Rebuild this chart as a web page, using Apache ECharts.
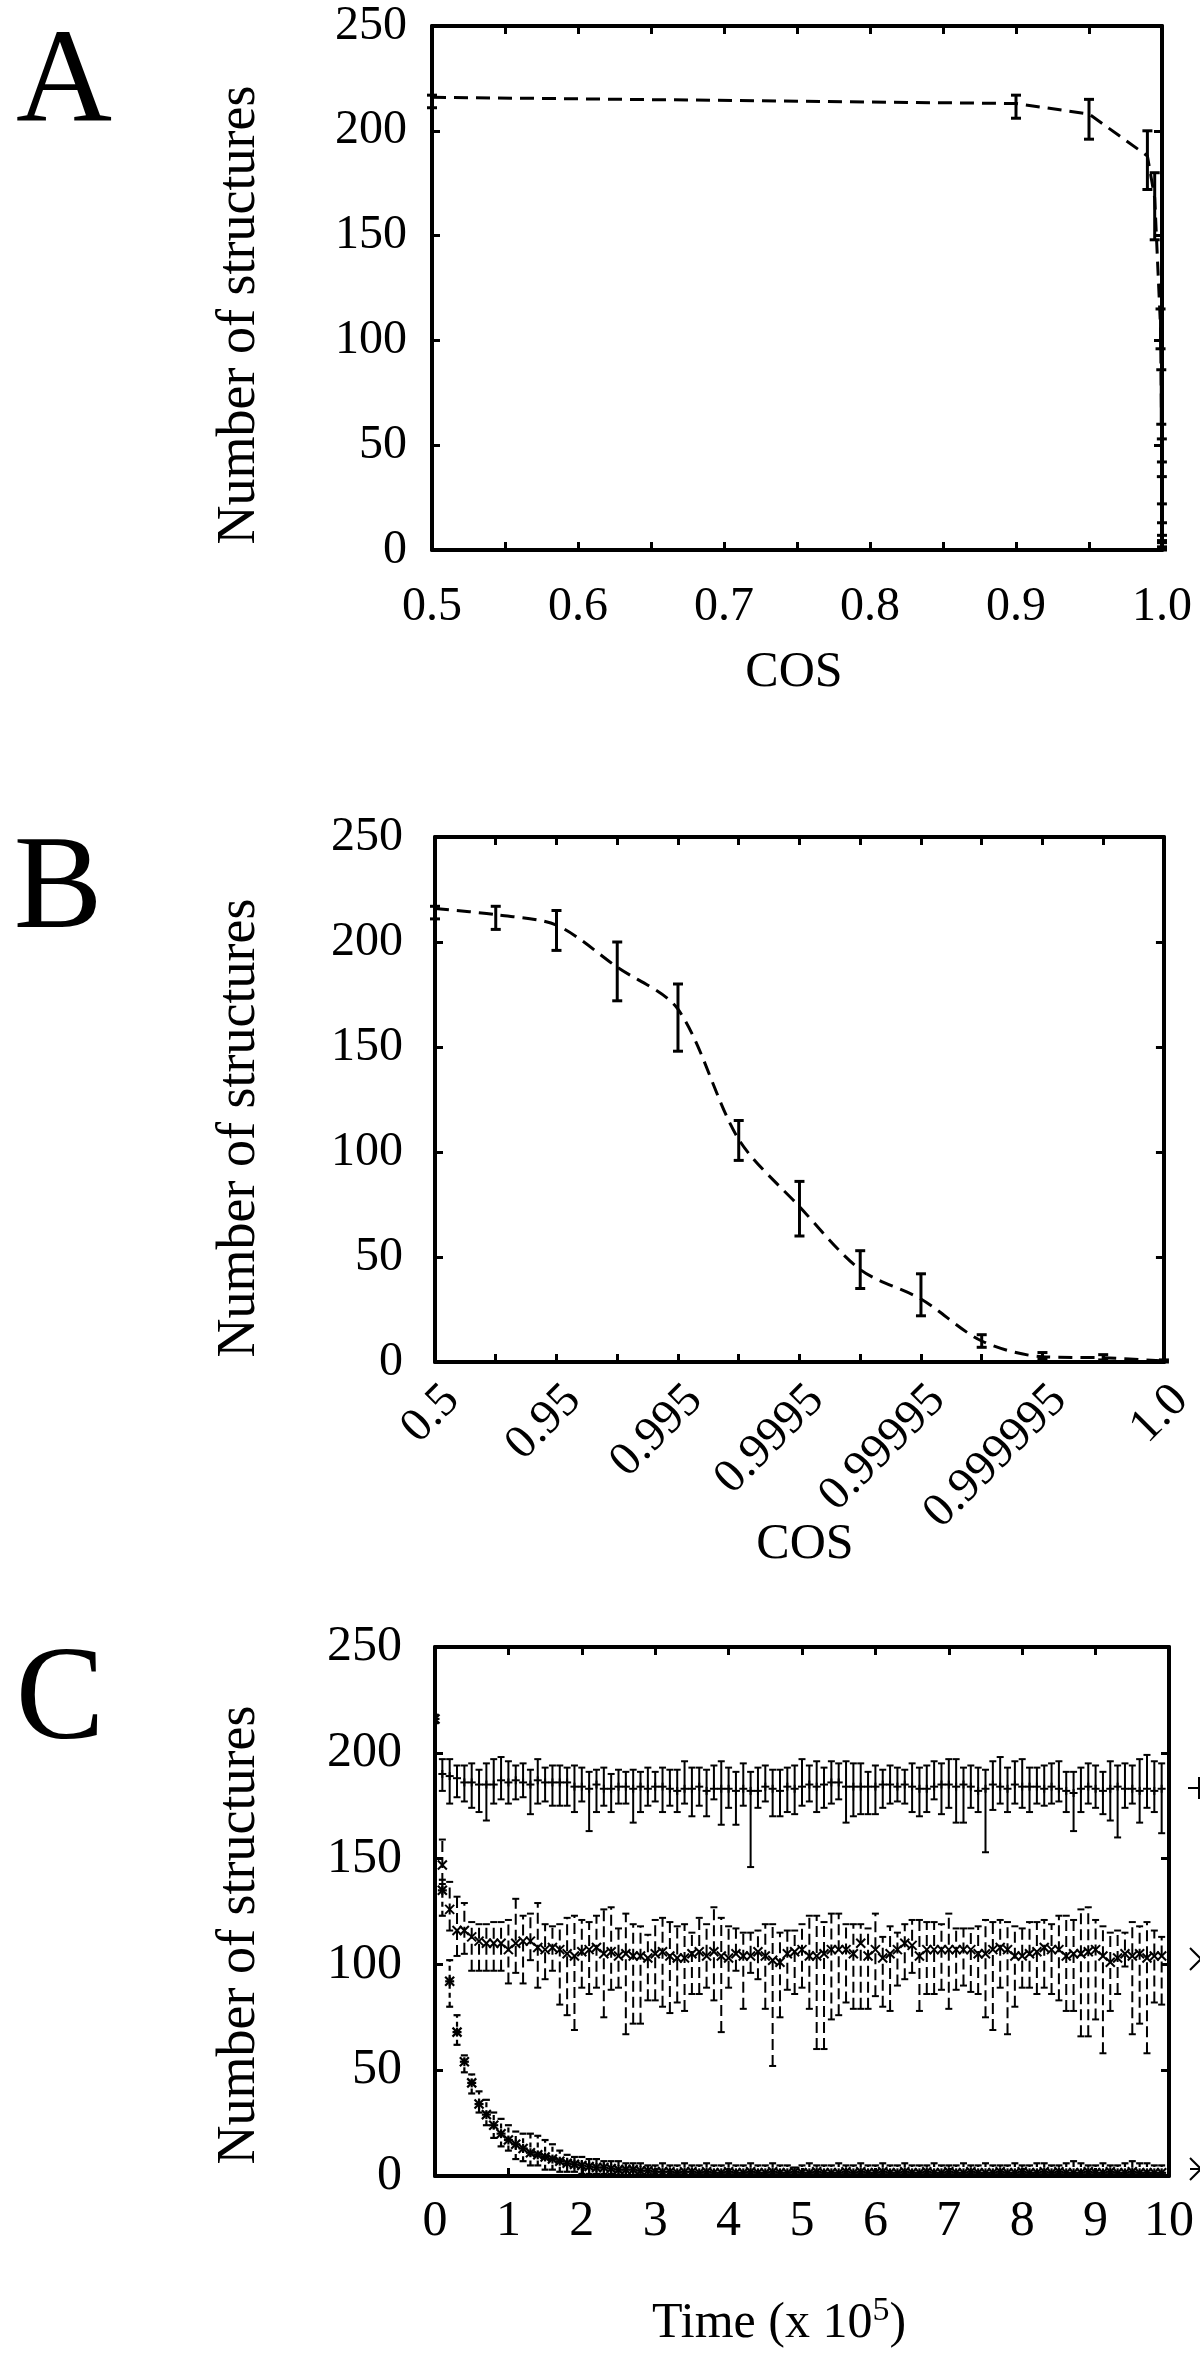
<!DOCTYPE html>
<html><head><meta charset="utf-8">
<script src="https://cdn.jsdelivr.net/npm/echarts@6/dist/echarts.min.js"></script>
<style>html,body{margin:0;padding:0;background:#fff}#c{width:1200px;height:2362px}</style>
</head><body><div id="c"></div>
<script>
// ---------- Panels A & B : COS threshold ----------
const cosValues = [0.5, 0.9, 0.95, 0.99, 0.995, 0.999, 0.9995, 0.9999, 0.99995, 0.99999, 0.999995, 0.999999, 1.0];
const cosLabels = ['0.5','0.9','0.95','0.99','0.995','0.999','0.9995','0.9999','0.99995','0.99999','0.999995','0.999999','1.0'];
const cosMean = [216, 213, 208, 188, 168, 106, 74, 44, 30, 10, 2.5, 2, 0.5];
const cosLow  = [211, 206, 196, 172, 148, 96, 60, 35, 22, 7, 1.5, 1, 0];
const cosHigh = [217, 217, 215, 200, 180, 115, 86, 53, 42, 13, 4.5, 3.5, 1];

// ---------- Panel C : time course ----------
const times = [0,0.1,0.2,0.3,0.4,0.5,0.6,0.7,0.8,0.9,1.0,1.1,1.2,1.3,1.4,1.5,1.6,1.7,1.8,1.9,
  2.0,2.1,2.2,2.3,2.4,2.5,2.6,2.7,2.8,2.9,3.0,3.1,3.2,3.3,3.4,3.5,3.6,3.7,3.8,3.9,
  4.0,4.1,4.2,4.3,4.4,4.5,4.6,4.7,4.8,4.9,5.0,5.1,5.2,5.3,5.4,5.5,5.6,5.7,5.8,5.9,
  6.0,6.1,6.2,6.3,6.4,6.5,6.6,6.7,6.8,6.9,7.0,7.1,7.2,7.3,7.4,7.5,7.6,7.7,7.8,7.9,
  8.0,8.1,8.2,8.3,8.4,8.5,8.6,8.7,8.8,8.9,9.0,9.1,9.2,9.3,9.4,9.5,9.6,9.7,9.8,9.9];

// series "+" (t = 0.1 .. 9.9)
const topMean = [190,189,188,186,186,185,185,185,187,186,
  187,186,185,187,186,186,186,186,184,184,
  183,185,183,183,184,184,183,184,183,184,
  184,183,182,183,183,184,182,183,183,183,
  182,183,182,182,184,183,182,184,183,184,
  185,184,185,186,186,184,184,184,184,184,
  185,185,184,185,184,183,183,184,185,185,
  184,185,184,182,183,185,184,183,185,184,
  184,184,183,184,183,182,181,183,184,183,
  182,183,184,183,183,182,183,182,183];
const topLow = [182,176,179,177,174,172,168,176,178,176,
  178,179,171,176,177,175,175,175,172,177,
  163,172,175,172,176,176,167,172,175,177,
  172,175,172,176,170,175,170,178,166,174,
  166,175,146,174,177,170,170,172,171,175,
  177,172,174,176,178,167,170,171,171,171,
  174,176,177,176,172,170,172,178,171,174,
  167,167,174,172,153,173,176,172,176,174,
  172,176,175,176,177,172,163,172,176,174,
  171,168,160,174,176,167,174,172,162];
const topHigh = [197,197,194,194,195,192,195,197,198,196,
  194,195,192,197,193,194,194,193,194,193,
  191,192,193,190,192,191,192,191,193,191,
  193,192,192,196,193,193,192,194,196,193,
  191,195,191,193,194,192,192,193,194,197,
  194,196,193,196,195,196,195,195,191,194,
  192,194,193,192,195,193,194,196,195,197,
  197,193,194,193,192,196,198,193,196,197,
  193,193,194,195,196,191,191,193,195,194,
  191,196,194,195,194,197,199,196,195];

// series "x" (t = 0.1 .. 9.9)
const midMean = [147,126,116,116,113,111,110,110,110,107,
  110,111,111,108,107,108,107,105,104,106,
  107,108,105,106,104,105,104,104,103,105,
  106,104,103,103,105,106,104,106,104,103,
  105,104,104,106,104,102,101,105,106,107,
  104,104,105,107,107,107,105,110,104,107,
  103,105,107,110,109,104,107,107,107,107,
  107,107,107,105,105,107,108,107,104,104,
  105,106,108,107,107,104,105,105,106,107,
  104,101,103,105,104,105,103,104,104];
const midHigh = [159,139,132,129,120,119,119,120,120,121,
  131,123,124,129,119,118,119,122,123,121,
  120,123,126,127,117,124,119,118,114,121,
  122,120,118,119,115,122,119,127,122,118,
  117,115,115,116,119,119,115,116,116,119,
  123,123,120,124,124,119,119,119,117,124,
  113,118,115,119,121,121,120,120,119,124,
  117,117,117,118,121,120,121,120,118,117,
  120,120,121,119,123,123,121,126,127,121,
  118,115,116,115,120,118,120,116,113];
const midLow = [138,116,104,105,97,97,97,97,97,91,
  96,91,102,89,93,97,81,76,69,89,
  86,89,75,88,89,67,72,72,83,83,
  80,77,82,78,86,86,89,83,68,89,
  97,79,96,93,79,52,75,88,86,89,
  79,60,60,74,76,82,79,79,79,85,
  80,78,90,93,96,78,86,86,88,79,
  88,90,87,86,75,69,89,67,80,89,
  89,86,89,86,83,78,78,66,66,74,
  58,78,86,99,67,72,58,82,81];

// series "*" (t = 0 .. 9.9)
const botMean = [216,135,92,68,54,44,34,29,24,20,
  17,15,13,11,10,9,8,7,6,5.5,
  5,4.5,4,4,3.5,3,3,3,2.5,2.5,
  2,2,2,1.5,2,2,1.5,2,1.5,1.5,
  2,1.5,1.5,2,1.5,1.5,2,1.5,1.5,2,
  1.5,1.5,2,1.5,1.5,1.5,2,1.5,2,1.5,
  1.5,2,1.5,1.5,2,1.5,1.5,2,1.5,1.5,
  2,1.5,1.5,2,1.5,1.5,1.5,2,1.5,1.5,
  2,1.5,1.5,2,1.5,2,1.5,1.5,1.5,2,
  1.5,1.5,2,1.5,1.5,2,1.5,1.5,1.5,1.5];
const botLow = [214,123,80,62,49,39,30,24,18,14,
  12,8,7,5,5,3,3,2,2,2,
  1,1,1,1,1,0.5,0.5,0.5,0,0,
  0,0,0,0,0,0,0,0,0,0,
  0,0,0,0,0,0,0,0,0,0,
  0,0,0,0,0,0,0,0,0,0,
  0,0,0,0,0,0,0,0,0,0,
  0,0,0,0,0,0,0,0,0,0,
  0,0,0,0,0,0,0,0,0,0,
  0,0,0,0,0,0,0,0,0,0];
const botHigh = [218,140,102,76,57,48,40,36,30,27,
  24,21,20,20,19,17,15,12,10,9,
  9,8,8,7,7,7,6,6,6,5,
  5,6,5,5,6,5,5,6,5,5,
  6,5,5,6,5,5,6,5,5,4,
  5,6,5,5,5,6,5,5,6,5,
  5,6,5,5,6,5,5,5,6,5,
  5,5,6,5,5,6,5,5,5,6,
  5,5,6,6,5,5,6,7,6,5,
  5,6,5,5,6,7,6,6,5,5];

const yTicks = [0, 50, 100, 150, 200, 250];

// ---------- build ----------
const FONT = '"Liberation Serif", "DejaVu Serif", serif';
const BLACK = '#000';

function errRender(o) {
  return function (params, api) {
    const x = api.value(0), y = api.value(1), lo = api.value(2), hi = api.value(3);
    const p = api.coord([x, y]), a = api.coord([x, lo]), b = api.coord([x, hi]);
    const c = o.cap, m = o.msize;
    const bar = { stroke: BLACK, lineWidth: o.lw, lineDash: o.dash || null, fill: null };
    const solid = { stroke: BLACK, lineWidth: o.lw, fill: null };
    const ch = [
      { type: 'line', shape: { x1: a[0], y1: a[1], x2: b[0], y2: b[1] }, style: bar },
      { type: 'line', shape: { x1: a[0] - c, y1: a[1], x2: a[0] + c, y2: a[1] }, style: solid },
      { type: 'line', shape: { x1: b[0] - c, y1: b[1], x2: b[0] + c, y2: b[1] }, style: solid }
    ];
    if (o.marker === 'plus' || o.marker === 'star') {
      ch.push({ type: 'line', shape: { x1: p[0] - m, y1: p[1], x2: p[0] + m, y2: p[1] }, style: solid });
      ch.push({ type: 'line', shape: { x1: p[0], y1: p[1] - m, x2: p[0], y2: p[1] + m }, style: solid });
    }
    if (o.marker === 'cross' || o.marker === 'star') {
      ch.push({ type: 'line', shape: { x1: p[0] - m, y1: p[1] - m, x2: p[0] + m, y2: p[1] + m }, style: solid });
      ch.push({ type: 'line', shape: { x1: p[0] - m, y1: p[1] + m, x2: p[0] + m, y2: p[1] - m }, style: solid });
    }
    return { type: 'group', children: ch };
  };
}

const lineStyleAxis = { color: BLACK, width: 4 };
const tickIn = { show: true, inside: true, length: 8, lineStyle: { color: BLACK, width: 3 } };

function yAxes(grid, fontSize, margin) {
  const base = { gridIndex: grid, type: 'value', min: yTicks[0], max: yTicks[yTicks.length - 1],
    interval: yTicks[1] - yTicks[0], splitLine: { show: false },
    axisLine: { show: true, onZero: false, lineStyle: lineStyleAxis }, axisTick: tickIn };
  return [
    Object.assign({}, base, { position: 'left',
      axisLabel: { show: true, margin: margin, fontFamily: FONT, fontSize: fontSize, color: BLACK } }),
    Object.assign({}, base, { position: 'right', axisLabel: { show: false } })
  ];
}

const grids = [
  { left: 432, top: 26, width: 730, height: 524 },
  { left: 435, top: 837, width: 734, height: 525 },
  { left: 435, top: 1647, width: 734, height: 529 }
];

// Panel A x axes (value)
const aX = { gridIndex: 0, type: 'value', min: 0.5, max: 1.0, interval: 0.1, splitLine: { show: false },
  axisLine: { show: true, onZero: false, lineStyle: lineStyleAxis }, axisTick: tickIn,
  minorTick: { show: true, splitNumber: 2, length: 8, lineStyle: { color: BLACK, width: 3 } },
  minorSplitLine: { show: false } };
// Panel B x axes (category)
const bX = { gridIndex: 1, type: 'category', data: cosLabels, boundaryGap: false, splitLine: { show: false },
  axisLine: { show: true, onZero: false, lineStyle: lineStyleAxis },
  axisTick: Object.assign({}, tickIn, { interval: 0 }) };
// Panel C x axes (value)
const cX = { gridIndex: 2, type: 'value', min: 0, max: 10, interval: 1, splitLine: { show: false },
  axisLine: { show: true, onZero: false, lineStyle: lineStyleAxis }, axisTick: tickIn };

const xAxis = [
  Object.assign({}, aX, { position: 'bottom', axisLabel: { margin: 33, fontFamily: FONT, fontSize: 48, color: BLACK,
    formatter: v => v.toFixed(1) } }),
  Object.assign({}, aX, { position: 'top', axisLabel: { show: false } }),
  Object.assign({}, bX, { position: 'bottom', axisLabel: { interval: 1, rotate: 45, margin: 14, verticalAlign: 'top',
    fontFamily: FONT, fontSize: 48, color: BLACK } }),
  Object.assign({}, bX, { position: 'top', axisLabel: { show: false } }),
  Object.assign({}, cX, { position: 'bottom', axisLabel: { margin: 21, fontFamily: FONT, fontSize: 50, color: BLACK } }),
  Object.assign({}, cX, { position: 'top', axisLabel: { show: false } })
];
const yAxis = [].concat(yAxes(0, 48, 25), yAxes(1, 48, 32), yAxes(2, 50, 33));

const dashLine = { color: BLACK, width: 3, type: [14, 8] };

const series = [
  // Panel A
  { type: 'line', xAxisIndex: 0, yAxisIndex: 0, symbol: 'none', lineStyle: dashLine, z: 3,
    data: cosValues.map((v, i) => [v, cosMean[i]]) },
  { type: 'custom', xAxisIndex: 0, yAxisIndex: 0, z: 4, renderItem: errRender({ lw: 3, cap: 5, msize: 0 }),
    encode: { x: 0, y: 1 }, data: cosValues.map((v, i) => [v, cosMean[i], cosLow[i], cosHigh[i]]) },
  // Panel B
  { type: 'line', xAxisIndex: 2, yAxisIndex: 2, symbol: 'none', smooth: 0.3, lineStyle: dashLine, z: 3,
    data: cosMean.slice() },
  { type: 'custom', xAxisIndex: 2, yAxisIndex: 2, z: 4, renderItem: errRender({ lw: 3, cap: 5, msize: 0 }),
    encode: { x: 0, y: 1 }, data: cosMean.map((v, i) => [i, v, cosLow[i], cosHigh[i]]) },
  // Panel C
  { type: 'custom', xAxisIndex: 4, yAxisIndex: 4, z: 4, clip: true,
    renderItem: errRender({ lw: 2, cap: 3.5, msize: 4, marker: 'plus' }), encode: { x: 0, y: 1 },
    data: topMean.map((v, i) => [times[i + 1], v, topLow[i], topHigh[i]]) },
  { type: 'custom', xAxisIndex: 4, yAxisIndex: 4, z: 4, clip: true,
    renderItem: errRender({ lw: 2, cap: 3.5, msize: 4.5, marker: 'cross', dash: [11, 5] }), encode: { x: 0, y: 1 },
    data: midMean.map((v, i) => [times[i + 1], v, midLow[i], midHigh[i]]) },
  { type: 'custom', xAxisIndex: 4, yAxisIndex: 4, z: 4, clip: true,
    renderItem: errRender({ lw: 2.2, cap: 3.5, msize: 4.5, marker: 'star', dash: [5, 4] }), encode: { x: 0, y: 1 },
    data: botMean.map((v, i) => [times[i], v, botLow[i], botHigh[i]]) }
];

function txt(x, y, text, size, rot) {
  return { type: 'text', x: x, y: y, rotation: rot || 0, silent: true,
    style: { text: text, fontFamily: FONT, fontSize: size, fill: BLACK, align: 'center', verticalAlign: 'middle' } };
}
function seg(x1, y1, x2, y2) {
  return { type: 'line', silent: true, shape: { x1: x1, y1: y1, x2: x2, y2: y2 }, style: { stroke: BLACK, lineWidth: 2 } };
}

const graphic = [
  txt(64, 85, 'A', 133), txt(58, 892, 'B', 133), txt(60, 1703, 'C', 133),
  txt(240, 315, 'Number of structures', 54, Math.PI / 2),
  txt(240, 1128, 'Number of structures', 54, Math.PI / 2),
  txt(240, 1935, 'Number of structures', 54, Math.PI / 2),
  txt(794, 673, 'COS', 50), txt(805, 1545, 'COS', 50),
  { type: 'text', x: 779, y: 2324, silent: true,
    style: { text: '{a|Time (x 10}{s|5}{a|)}', align: 'center', verticalAlign: 'middle', fill: BLACK,
      rich: { a: { fontFamily: FONT, fontSize: 50, lineHeight: 60, fill: BLACK },
              s: { fontFamily: FONT, fontSize: 34, lineHeight: 34, verticalAlign: 'top', fill: BLACK } } } },
  // key samples at the right edge of panel C
  seg(1188, 1788, 1210, 1788), seg(1199, 1777, 1199, 1799),
  seg(1190, 1948, 1212, 1970), seg(1190, 1970, 1212, 1948),
  seg(1190, 2158, 1212, 2180), seg(1190, 2180, 1212, 2158), seg(1190, 2169, 1212, 2169)
];

const chart = echarts.init(document.getElementById('c'), null, { renderer: 'canvas' });
chart.setOption({
  backgroundColor: '#fff',
  animation: false,
  grid: grids,
  xAxis: xAxis,
  yAxis: yAxis,
  series: series,
  graphic: graphic
});
</script></body></html>
